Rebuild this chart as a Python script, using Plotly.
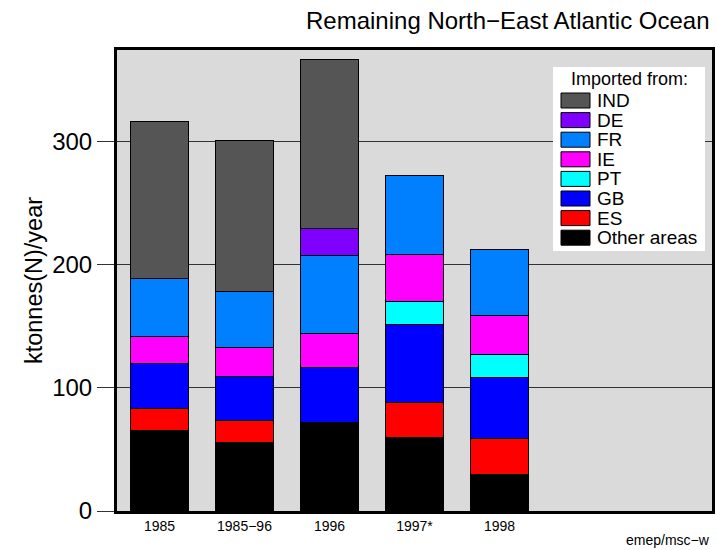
import plotly.graph_objects as go

categories = ["1985", "1985\u221296", "1996", "1997*", "1998"]
other = [65.0, 55.8, 71.5, 59.6, 29.8]
es = [18.5, 17.9, None, 28.8, 29.3]
gb = [36.0, 35.5, 45.0, 62.6, 49.0]
pt = [None, None, None, 18.8, 18.7]
ie = [21.7, 23.1, 27.7, 38.2, 31.5]
fr = [47.2, 46.0, 63.4, 64.2, 53.9]
de = [None, None, 21.4, None, None]
ind = [127.6, 122.5, 137.4, None, None]

series = [
    ("Other areas", other, "#000000"),
    ("ES", es, "#ff0000"),
    ("GB", gb, "#0000ff"),
    ("PT", pt, "#00ffff"),
    ("IE", ie, "#ff00ff"),
    ("FR", fr, "#0080ff"),
    ("DE", de, "#8000ff"),
    ("IND", ind, "#555555"),
]

xpos = list(range(len(categories)))

plot_x0, plot_x1 = 117, 712
plot_y0, plot_y1 = 50, 511


def px_x(p):
    return (p - plot_x0) / (plot_x1 - plot_x0)


def px_y(p):
    return (plot_y1 - p) / (plot_y1 - plot_y0)


fig = go.Figure()
for name, vals, col in series:
    fig.add_trace(go.Bar(
        x=xpos, y=vals, name=name, width=0.69, showlegend=False,
        marker=dict(color=col, line=dict(color="#000000", width=1)),
    ))

shapes = []
annotations = []

# legend box (drawn manually to match the original layout)
shapes.append(dict(type="rect", xref="paper", yref="paper",
                   x0=px_x(553), x1=px_x(705), y0=px_y(251), y1=px_y(67),
                   fillcolor="white", line=dict(width=0), layer="above"))
annotations.append(dict(text="Imported from:", xref="paper", yref="paper",
                        x=px_x(629), y=px_y(78.5), xanchor="center", yanchor="middle",
                        showarrow=False, font=dict(size=18)))
for i, (name, vals, col) in enumerate(reversed(series)):
    cy = 100.5 + i * 19.6
    shapes.append(dict(type="rect", xref="paper", yref="paper",
                       x0=px_x(561), x1=px_x(590), y0=px_y(cy + 7.5), y1=px_y(cy - 7.5),
                       fillcolor=col, line=dict(color="#000000", width=1), layer="above"))
    annotations.append(dict(text=name, xref="paper", yref="paper",
                            x=px_x(595), y=px_y(cy), xanchor="left", yanchor="middle",
                            showarrow=False, font=dict(size=19)))

annotations.append(dict(text="Remaining North\u2212East Atlantic Ocean", xref="paper", yref="paper",
                        x=1, y=1, yshift=30, xanchor="right", yanchor="middle",
                        showarrow=False, font=dict(size=24)))
annotations.append(dict(text="emep/msc\u2212w", xref="paper", yref="paper",
                        x=1, y=0, yshift=-29, xanchor="right", yanchor="middle",
                        showarrow=False, font=dict(size=14)))

fig.update_layout(
    barmode="stack",
    width=717, height=550,
    margin=dict(l=117, r=5, t=50, b=39, autoexpand=False),
    paper_bgcolor="white",
    plot_bgcolor="#dadada",
    font=dict(family="Liberation Sans, Arial, sans-serif", color="#000000"),
    showlegend=False,
    xaxis=dict(
        range=[-0.5, 6.5],
        tickmode="array", tickvals=xpos, ticktext=categories,
        tickfont=dict(size=14), ticks="", showgrid=False, zeroline=False,
        showline=True, linecolor="#000000", linewidth=3, mirror=True,
    ),
    yaxis=dict(
        range=[0, 374],
        tickvals=[0, 100, 200, 300],
        tickfont=dict(size=24),
        ticks="outside", ticklen=17, tickcolor="#333333", tickwidth=1,
        showgrid=True, gridcolor="#333333", gridwidth=1, zeroline=False,
        showline=True, linecolor="#000000", linewidth=3, mirror=True,
        title=dict(text="ktonnes(N)/year", font=dict(size=23.5), standoff=3),
    ),
    shapes=shapes,
    annotations=annotations,
)

fig.write_html("out.html", config={"displayModeBar": False},
               post_script="document.body.style.margin='0';")
